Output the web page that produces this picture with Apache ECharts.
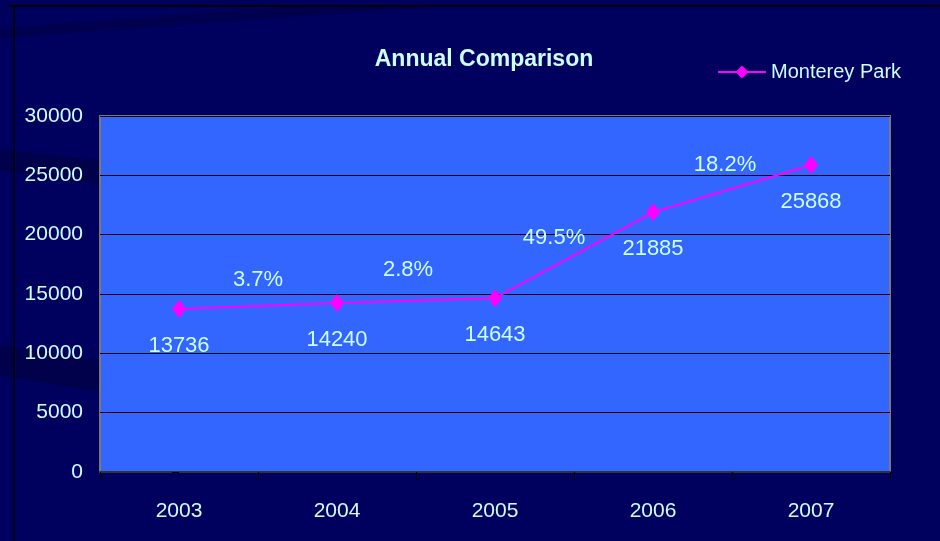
<!DOCTYPE html>
<html>
<head>
<meta charset="utf-8">
<script src="https://cdn.jsdelivr.net/npm/echarts@6/dist/echarts.min.js"></script>
<style>html,body{margin:0;padding:0;background:#00005E;}#c{width:940px;height:541px;}</style>
</head>
<body>
<div id="c"></div>
<script>
var categories = ['2003', '2004', '2005', '2006', '2007'];
var values = [13736, 14240, 14643, 21885, 25868];
var pctLabels = ['3.7%', '2.8%', '49.5%', '18.2%'];
var yTicks = [0, 5000, 10000, 15000, 20000, 25000, 30000];

var FONT = "'Liberation Sans Narrow', 'Arial Narrow', 'Liberation Sans', Arial, sans-serif";
var TXT = '#CCFFFF';

// percentage labels anchored between successive points
var pctOffsets = [[0, -26], [-8, -31], [-20, -17], [-7, -24]];
var pctData = pctLabels.map(function (t, i) {
  return {
    value: [i + 0.5, (values[i] + values[i + 1]) / 2],
    label: { formatter: t, offset: pctOffsets[i] }
  };
});

var chart = echarts.init(document.getElementById('c'), null, { renderer: 'canvas' });
chart.setOption({
  backgroundColor: '#00005E',
  animation: false,
  graphic: [
    { type: 'polygon', silent: true, z: -1, shape: { points: [[0, 38], [440, 6], [300, 6], [0, 28]] }, style: { fill: 'rgba(0,0,50,0.35)' } },
    { type: 'polygon', silent: true, z: -1, shape: { points: [[0, 150], [100, 160], [100, 185], [0, 170]] }, style: { fill: 'rgba(0,0,40,0.35)' } },
    { type: 'polygon', silent: true, z: -1, shape: { points: [[0, 345], [100, 360], [100, 392], [0, 375]] }, style: { fill: 'rgba(0,0,40,0.35)' } },
    { type: 'line', silent: true, shape: { x1: 8, y1: 6, x2: 940, y2: 6 }, style: { stroke: '#000000', lineWidth: 2 } },
    { type: 'line', silent: true, shape: { x1: 14, y1: 6, x2: 14, y2: 541 }, style: { stroke: '#000000', lineWidth: 1.5 } }
  ],
  title: {
    text: 'Annual Comparison',
    left: 479, top: 43, textAlign: 'center',
    textStyle: { color: TXT, fontFamily: FONT, fontWeight: 'bold', fontSize: 23 }
  },
  legend: {
    data: ['Monterey Park'],
    left: 712, top: 57,
    itemWidth: 48, itemHeight: 16, itemGap: 4,
    textStyle: { color: TXT, fontFamily: FONT, fontSize: 20 }
  },
  grid: { left: 100, right: 50, top: 116, bottom: 69, show: true, backgroundColor: '#3366FF', borderColor: '#7a7a7a', borderWidth: 2 },
  xAxis: [
    {
      type: 'category', data: categories, boundaryGap: true,
      axisLine: { lineStyle: { color: '#333333', width: 2 } },
      axisTick: { show: true, length: 8, lineStyle: { color: '#000000' }, alignWithLabel: false },
      axisLabel: { color: TXT, fontFamily: FONT, fontSize: 21, margin: 29 },
      splitLine: { show: false }
    },
    { type: 'value', min: -0.5, max: 4.5, show: false }
  ],
  yAxis: {
    type: 'value', min: 0, max: 30000, interval: 5000,
    axisLine: { show: false },
    axisTick: { show: true, length: 7, lineStyle: { color: '#000000' } },
    axisLabel: { color: TXT, fontFamily: FONT, fontSize: 21, margin: 17, formatter: function (v) { return String(v); } },
    splitLine: { show: true, lineStyle: { color: '#000000', width: 1 } }
  },
  series: [
    {
      name: 'Monterey Park', type: 'line', data: values,
      symbol: 'diamond', symbolSize: [14, 18],
      itemStyle: { color: '#FF00FF' },
      lineStyle: { color: '#FF00FF', width: 2 },
      label: { show: true, position: 'inside', offset: [0, 37], color: TXT, fontFamily: FONT, fontSize: 22 }
    },
    {
      name: 'pct', type: 'scatter', xAxisIndex: 1, data: pctData,
      symbolSize: 0, silent: true,
      itemStyle: { opacity: 1 },
      label: { show: true, position: 'inside', color: TXT, fontFamily: FONT, fontSize: 22 }
    }
  ]
});
</script>
</body>
</html>
